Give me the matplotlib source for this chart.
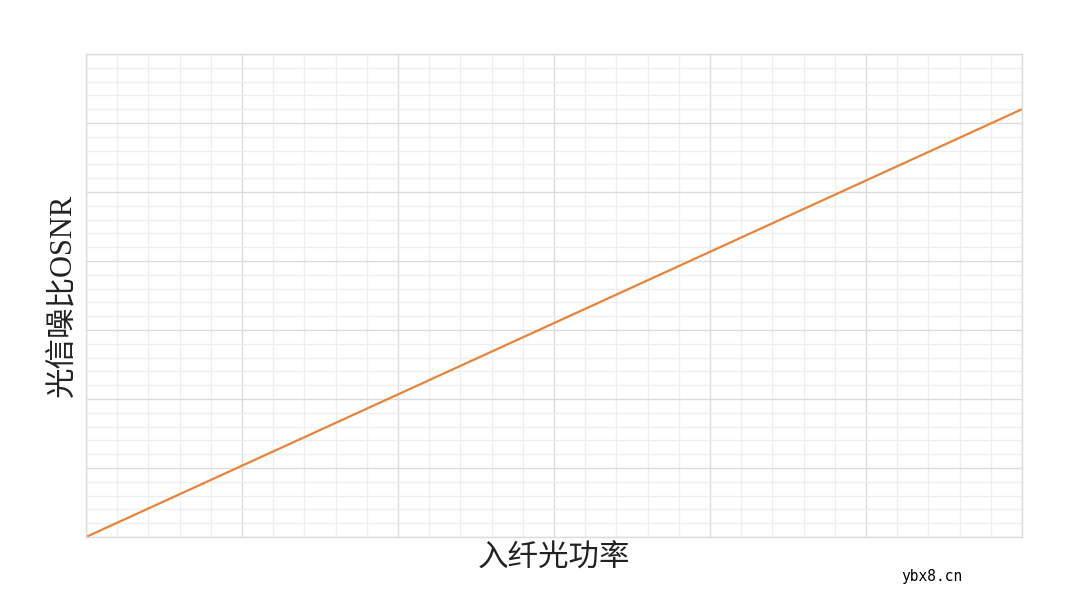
import numpy as np
import matplotlib.pyplot as plt
from matplotlib.ticker import MultipleLocator

plt.rcParams['font.family'] = ['Noto Sans CJK SC', 'DejaVu Sans']

# data
power = [0, 6]
osnr = [0, 6.2]
xlabel = '入纤光功率'
ylabel = '光信噪比OSNR'
mark = 'ybx8.cn'

fig = plt.figure(figsize=(10.8, 6.07), dpi=100)
ax = fig.add_axes([86/1080, 1-537/607, (1022-86)/1080, (537-54)/607])

ax.plot(power, osnr, color='#e8833a', lw=1.6, solid_capstyle='butt')

ax.set_xlim(0, 6)
ax.set_ylim(0, 7)
ax.xaxis.set_major_locator(MultipleLocator(1))
ax.xaxis.set_minor_locator(MultipleLocator(0.2))
ax.yaxis.set_major_locator(MultipleLocator(1))
ax.yaxis.set_minor_locator(MultipleLocator(0.2))
ax.grid(which='major', color='#dcdcdc', lw=1.0)
ax.grid(which='minor', color='#eeeeee', lw=0.9)
ax.set_axisbelow(True)
ax.tick_params(which='both', length=0, labelbottom=False, labelleft=False)
for s in ax.spines.values():
    s.set_color('#dcdcdc')
    s.set_linewidth(1.0)

ax.set_xlabel(xlabel, fontsize=22, fontweight='light', labelpad=4, color='#222222')
ax.set_ylabel(ylabel, fontsize=22, labelpad=6, color='#222222',
              family=['Liberation Serif', 'Noto Sans CJK SC'])

fig.text(932/1080, 1-576/607, mark, family='DejaVu Sans Mono', fontsize=10.5,
         ha='center', va='center', color='#000000')

fig.savefig('out.png', dpi=100, facecolor='white')
